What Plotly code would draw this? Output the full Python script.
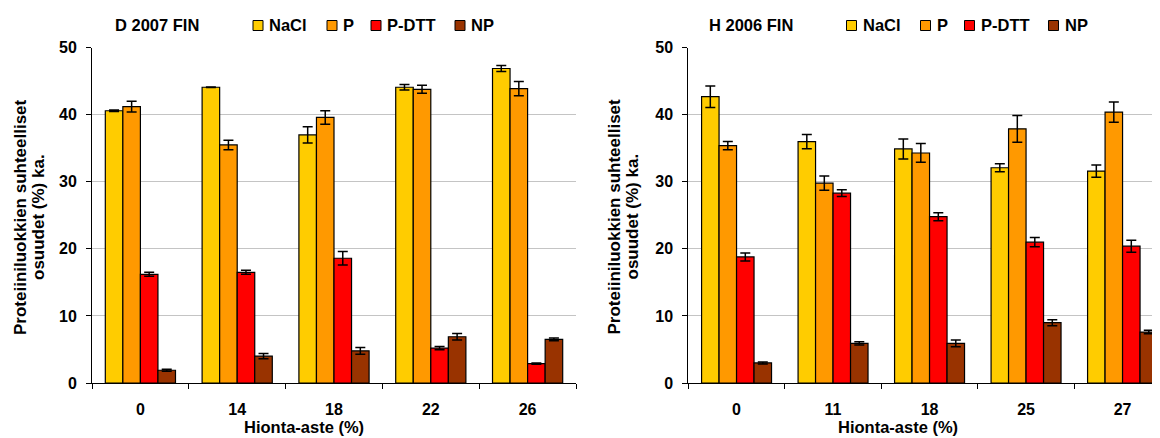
import plotly.graph_objects as go

W, H = 1160, 438
OFF = 8  # page body margin offset of the rendered figure
FW, FH = W - OFF, H - OFF

series = ["NaCl", "P", "P-DTT", "NP"]
colors = ["#FFCC00", "#FF9900", "#FF0000", "#993300"]

# Left chart: D 2007 FIN
left_title = "D 2007 FIN"
left_cats = ["0", "14", "18", "22", "26"]
left_nacl = [40.6, 44.1, 37.0, 44.1, 46.9]
left_nacl_err = [0.1, 0.05, 1.2, 0.4, 0.45]
left_p = [41.2, 35.5, 39.6, 43.8, 43.9]
left_p_err = [0.8, 0.7, 1.0, 0.6, 1.05]
left_pdtt = [16.2, 16.5, 18.6, 5.2, 2.9]
left_pdtt_err = [0.3, 0.3, 1.0, 0.25, 0.1]
left_np = [1.9, 4.0, 4.8, 6.9, 6.5]
left_np_err = [0.15, 0.4, 0.5, 0.5, 0.2]

# Right chart: H 2006 FIN
right_title = "H 2006 FIN"
right_cats = ["0", "11", "18", "25", "27"]
right_nacl = [42.7, 36.0, 34.9, 32.1, 31.6]
right_nacl_err = [1.6, 1.05, 1.5, 0.6, 0.9]
right_p = [35.4, 29.8, 34.3, 37.9, 40.4]
right_p_err = [0.6, 1.05, 1.4, 2.0, 1.5]
right_pdtt = [18.8, 28.3, 24.8, 21.0, 20.4]
right_pdtt_err = [0.6, 0.5, 0.6, 0.7, 0.9]
right_np = [3.0, 5.9, 5.9, 9.0, 7.6]
right_np_err = [0.15, 0.25, 0.5, 0.45, 0.25]

y_title_lines = ["Proteiiniluokkien suhteelliset", "osuudet (%) ka."]
x_title = "Hionta-aste (%)"

FONT = "Liberation Sans, Arial, sans-serif"
BLACK = "#000000"


def px_x(p):
    return (p - OFF) / FW


def px_y(p):
    return (FH - (p - OFF)) / FH


fig = go.Figure()

left_vals = [(left_nacl, left_nacl_err), (left_p, left_p_err), (left_pdtt, left_pdtt_err), (left_np, left_np_err)]
right_vals = [(right_nacl, right_nacl_err), (right_p, right_p_err), (right_pdtt, right_pdtt_err), (right_np, right_np_err)]

for name, col, (v, e) in zip(series, colors, left_vals):
    fig.add_trace(go.Bar(
        x=left_cats, y=v, name=name, xaxis="x", yaxis="y", showlegend=False,
        marker=dict(color=col, line=dict(color=BLACK, width=1.2)),
        error_y=dict(type="data", array=e, visible=True, color=BLACK, thickness=1.5, width=5),
    ))
for name, col, (v, e) in zip(series, colors, right_vals):
    fig.add_trace(go.Bar(
        x=right_cats, y=v, name=name, xaxis="x2", yaxis="y2", showlegend=False,
        marker=dict(color=col, line=dict(color=BLACK, width=1.2)),
        error_y=dict(type="data", array=e, visible=True, color=BLACK, thickness=1.5, width=5),
    ))

ydom = [px_y(383), px_y(47.7)]
tickfont = dict(family=FONT, size=16, color=BLACK, weight="bold")


def xaxis_cfg(dom, rng, anchor):
    return dict(domain=dom, range=rng, type="category", anchor=anchor, showline=True, linecolor=BLACK,
                linewidth=1, ticks="outside", ticklen=5, tickcolor=BLACK,
                tickson="boundaries", tickfont=tickfont, ticklabelstandoff=12,
                showgrid=False, zeroline=False, fixedrange=True, automargin=False)


def yaxis_cfg(anchor):
    return dict(domain=ydom, range=[0, 50], anchor=anchor, showline=True, linecolor=BLACK,
                linewidth=1, ticks="outside", ticklen=5, tickcolor=BLACK,
                tickvals=[0, 10, 20, 30, 40, 50], tickfont=tickfont, ticklabelstandoff=6,
                showgrid=True, gridcolor="#C4C4C4", gridwidth=1, zeroline=False,
                fixedrange=True, automargin=False)


fig.update_layout(
    width=FW, height=FH,
    margin=dict(l=0, r=0, t=0, b=0, autoexpand=False),
    paper_bgcolor="#FFFFFF", plot_bgcolor="#FFFFFF",
    barmode="group", bargap=0.275, bargroupgap=0,
    xaxis=xaxis_cfg([px_x(92), px_x(576)], [-0.5, 4.5], "y"),
    yaxis=yaxis_cfg("x"),
    xaxis2=xaxis_cfg([px_x(688.3), 1.0], [-0.5, 4.388], "y2"),
    yaxis2=yaxis_cfg("x2"),
    showlegend=False,
)

ann_font = dict(family=FONT, size=16.5, color=BLACK, weight="bold")
annotations = []
shapes = []

panels = [
    dict(dx=0.0, title=left_title, xtitle_c=304),
    dict(dx=593.5, title=right_title, xtitle_c=898),
]
legend_sq_left = [253, 327, 371, 455]  # left edges of legend squares (left panel)

for pnl in panels:
    dx = pnl["dx"]
    annotations.append(dict(text=pnl["title"], x=px_x(113 + dx), y=px_y(24.5), xref="paper", yref="paper",
                            showarrow=False, font=ann_font, xanchor="left", yanchor="middle"))
    annotations.append(dict(text=x_title, x=px_x(pnl["xtitle_c"]), y=px_y(427), xref="paper", yref="paper",
                            showarrow=False, font=ann_font, xanchor="center", yanchor="middle"))
    for i, line in enumerate(y_title_lines):
        annotations.append(dict(text=line, x=px_x(20 + 18 * i + dx), y=px_y(217), xref="paper", yref="paper",
                                textangle=-90, showarrow=False,
                                font=dict(family=FONT, size=17, color=BLACK, weight="bold"),
                                xanchor="center", yanchor="middle"))
    for name, col, sx in zip(series, colors, legend_sq_left):
        x0 = sx + dx
        shapes.append(dict(type="rect", xref="paper", yref="paper",
                           x0=px_x(x0), x1=px_x(x0 + 10), y0=px_y(30.5), y1=px_y(20.5),
                           fillcolor=col, line=dict(color=BLACK, width=1)))
        annotations.append(dict(text=name, x=px_x(x0 + 14), y=px_y(25), xref="paper", yref="paper",
                                showarrow=False, font=dict(family=FONT, size=16.5, color=BLACK, weight="bold"),
                                xanchor="left", yanchor="middle"))

fig.update_layout(annotations=annotations, shapes=shapes)

fig.write_html("out.html")
